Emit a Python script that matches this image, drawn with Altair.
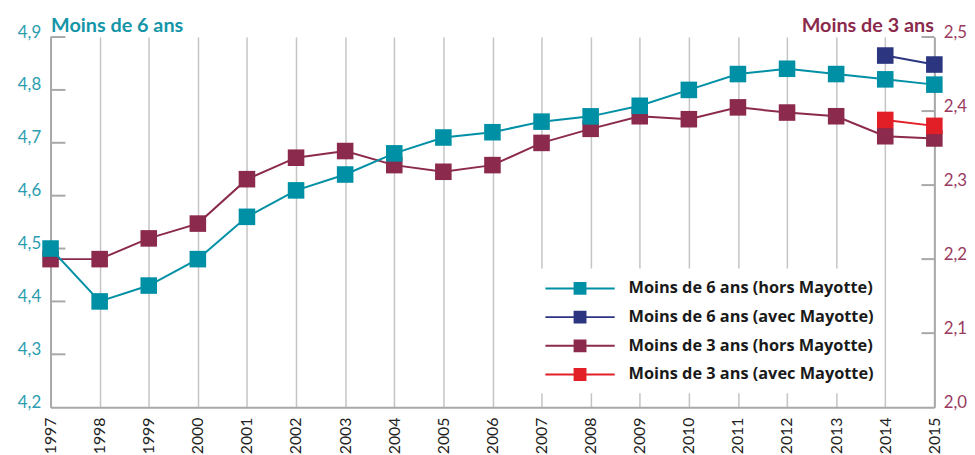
import altair as alt
import pandas as pd

years = list(range(1997, 2016))
moins6_hors = [4.50, 4.40, 4.43, 4.48, 4.56, 4.61, 4.64, 4.68, 4.71, 4.72,
               4.74, 4.75, 4.77, 4.80, 4.83, 4.84, 4.83, 4.82, 4.81]
avec_years = [2014, 2015]
moins6_avec = [4.865, 4.848]
moins3_hors = [2.20, 2.20, 2.228, 2.248, 2.308, 2.337, 2.346, 2.327, 2.318, 2.327,
               2.357, 2.376, 2.393, 2.389, 2.405, 2.398, 2.393, 2.366, 2.363]
moins3_avec = [2.388, 2.380]

series = ["Moins de 6 ans (hors Mayotte)", "Moins de 6 ans (avec Mayotte)",
          "Moins de 3 ans (hors Mayotte)", "Moins de 3 ans (avec Mayotte)"]
colors = ["#0090A5", "#2B3580", "#8B2A4C", "#E21E26"]

left_ticks = [4.2, 4.3, 4.4, 4.5, 4.6, 4.7, 4.8, 4.9]
right_ticks = [2.0, 2.1, 2.2, 2.3, 2.4, 2.5]

W, H = 893, 374
FONT = "Lato"
LEGEND_FONT = "Open Sans"

df6 = pd.DataFrame({
    "annee": years + avec_years,
    "valeur": moins6_hors + moins6_avec,
    "serie": [series[0]] * len(years) + [series[1]] * len(avec_years),
})
df3 = pd.DataFrame({
    "annee": years + avec_years,
    "valeur": moins3_hors + moins3_avec,
    "serie": [series[2]] * len(years) + [series[3]] * len(avec_years),
})
dfl_ticks = pd.DataFrame({"valeur": left_ticks[1:]})
dfr_ticks = pd.DataFrame({"valeur": right_ticks[1:]})

label_expr = "replace(format(datum.value, '.1f'), '.', ',')"

x_enc = alt.X("annee:O", scale=alt.Scale(type="point", padding=0),
              axis=alt.Axis(labelAngle=-90, grid=True, gridColor="#c4c4c4", gridWidth=1.5,
                            domainColor="#a8a8a8", domainWidth=2, ticks=False,
                            labelPadding=10, title=None, labelFont=FONT,
                            labelFontSize=16, labelColor="#222222"))

left_scale = alt.Scale(domain=[4.2, 4.9], nice=False, zero=False)
right_scale = alt.Scale(domain=[2.0, 2.5], nice=False, zero=False)

left_axis = alt.Axis(orient="left", values=left_ticks, labelExpr=label_expr,
                     ticks=False, grid=False, domainColor="#a8a8a8", domainWidth=2,
                     labelColor="#2B9CB0", labelFont=FONT, labelFontSize=17,
                     labelBaseline="alphabetic", labelPadding=10,
                     title="Moins de 6 ans", titleAngle=0,
                     titleX=0, titleY=-6, titleAlign="left", titleBaseline="alphabetic",
                     titleFont=FONT, titleFontWeight="bold", titleFontSize=20,
                     titleColor="#1595A8")
right_axis = alt.Axis(orient="right", values=right_ticks, labelExpr=label_expr,
                      ticks=False, grid=False, domainColor="#a8a8a8", domainWidth=2,
                      labelColor="#9A3A5E", labelFont=FONT, labelFontSize=17,
                      labelBaseline="alphabetic", labelPadding=9,
                      title="Moins de 3 ans", titleAngle=0,
                      titleX=-1, titleY=-6, titleAlign="right", titleBaseline="alphabetic",
                      titleFont=FONT, titleFontWeight="bold", titleFontSize=20,
                      titleColor="#8B2A4C")

sym_path = "M-3.5,-0.1H3.5V0.1H-3.5Z M-0.65,-0.65H0.65V0.65H-0.65Z"
legend = alt.Legend(title=None, orient="none", legendX=485, legendY=234,
                    fillColor="white", padding=10, symbolType=sym_path,
                    symbolSize=400, symbolOffset=30, labelOffset=39, rowPadding=10,
                    symbolStrokeWidth=0, symbolOpacity=1, labelFont=LEGEND_FONT,
                    labelFontWeight="bold", labelFontSize=16.5, labelColor="#1a1a1a",
                    labelLimit=400)
color_enc = alt.Color("serie:N", scale=alt.Scale(domain=series, range=colors),
                      legend=legend)


def series_layers(df, scale, axis):
    base = alt.Chart(df).encode(
        x=x_enc,
        y=alt.Y("valeur:Q", scale=scale, axis=axis),
        color=color_enc,
    )
    return [base.mark_line(strokeWidth=2),
            base.mark_point(shape="square", size=280, filled=True, opacity=1)]


ticks3 = alt.Chart(dfr_ticks).mark_rule(color="#a8a8a8", strokeWidth=2).encode(
    y=alt.Y("valeur:Q", scale=right_scale, axis=right_axis),
    x=alt.value(W - 13), x2=alt.value(W),
)
ticks6 = alt.Chart(dfl_ticks).mark_rule(color="#a8a8a8", strokeWidth=2).encode(
    y=alt.Y("valeur:Q", scale=left_scale, axis=left_axis),
    x=alt.value(0), x2=alt.value(15),
)

right_group = alt.layer(ticks3, *series_layers(df3, right_scale, right_axis))
left_group = alt.layer(ticks6, *series_layers(df6, left_scale, left_axis))

chart = alt.layer(right_group, left_group).resolve_scale(y="independent").properties(
    width=W, height=H, padding={"left": 9, "top": 5, "right": 0, "bottom": 0},
    background="white",
).configure_view(stroke=None)

chart.save("out.html", embed_options={"renderer": "svg", "actions": False})
